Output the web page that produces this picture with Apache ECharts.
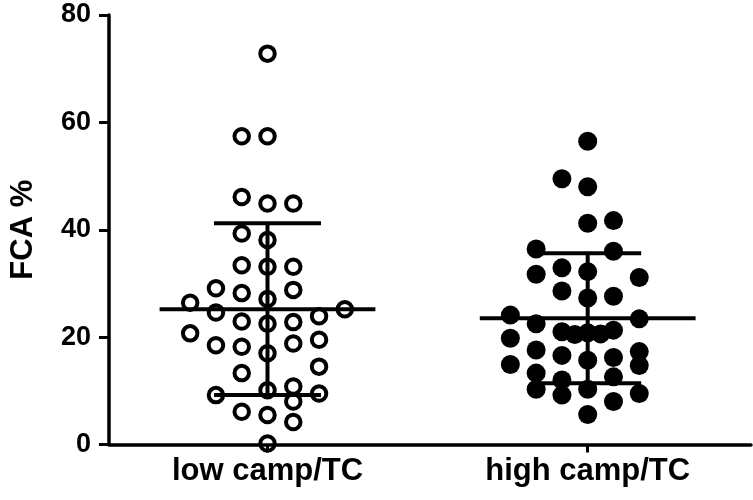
<!DOCTYPE html>
<html>
<head>
<meta charset="utf-8">
<script src="https://cdn.jsdelivr.net/npm/echarts@6/dist/echarts.min.js"></script>
<style>
html,body{margin:0;padding:0;background:#fff;}
#chart{width:753px;height:500px;}
</style>
</head>
<body>
<div id="chart"></div>
<script>
// ---- data ----
var categories = ['low camp/TC', 'high camp/TC'];
var yTicks = [0, 20, 40, 60, 80];

// low camp/TC : swarm lane index and value
var lowLane = [0, -1, 0, -1, 0, 1, -1, 0, -1, 0, 1, -2, -1, 1, 0, -3, -2, 3, -1, 0, 1, 2, -3, -2, -1, 0, 1, 2, -1, 2, -2, 0, 1, 1, 2, -1, 0, 1, 0];
var lowVal  = [72.8, 57.4, 57.4, 46.1, 44.9, 44.9, 39.3, 38.1, 33.4, 33.1, 33.1, 29.1, 28.2, 28.8, 27.1, 26.4, 24.6, 25.2, 22.9, 22.5, 22.8, 23.9, 20.7, 18.5, 18.2, 17.0, 18.8, 19.5, 13.3, 14.5, 9.2, 10.1, 10.8, 8.0, 9.5, 6.1, 5.5, 4.2, 0.2];

// high camp/TC
var highLane = [0, -1, 0, 0, 1, -2, 1, -2, -1, 0, 2, -1, 0, 1, -3, -2, 2, -1, -0.5, 0, 0.5, 1, -3, -2, -1, 0, 1, 2, 2, -3, -2, -2, -1, -1, 0, 1, 1, 2, 0];
var highVal  = [56.5, 49.5, 48.0, 41.2, 41.7, 36.4, 36.0, 31.7, 32.9, 32.2, 31.1, 28.6, 27.3, 27.6, 24.1, 22.5, 23.4, 21.0, 20.5, 20.8, 20.6, 21.3, 19.8, 17.6, 16.6, 15.7, 16.2, 17.3, 14.7, 14.9, 13.3, 10.3, 12.0, 9.2, 10.3, 12.6, 8.0, 9.5, 5.6];

var means = [25.2, 23.5];
var sds   = [16.0, 12.1];

// ---- build ----
var laneStep = 0.0805;
function pts(group, lanes, vals) {
  return vals.map(function (v, i) { return [group + lanes[i] * laneStep, v]; });
}
var statData = means.map(function (m, i) { return [i + 1, m, sds[i]]; });

var chart = echarts.init(document.getElementById('chart'), null, {renderer: 'canvas'});
var FONT = 'Liberation Sans, Arial, sans-serif';

chart.setOption({
  backgroundColor: '#fff',
  animation: false,
  grid: {left: 103, right: 2, top: 15, bottom: 55.5, containLabel: false},
  xAxis: {
    type: 'value',
    min: 0.505,
    max: 2.51,
    splitLine: {show: false},
    axisLine: {show: true, onZero: false, lineStyle: {color: '#000', width: 3.5}},
    axisTick: {show: true, customValues: [1, 2], length: 8, lineStyle: {color: '#000', width: 3}},
    axisLabel: {
      show: true, customValues: [1, 2], margin: 11,
      color: '#000', fontFamily: FONT, fontWeight: 'bold', fontSize: 31,
      formatter: function (v) { return categories[Math.round(v) - 1] || ''; }
    }
  },
  yAxis: {
    type: 'value',
    min: yTicks[0],
    max: yTicks[yTicks.length - 1],
    interval: 20,
    splitLine: {show: false},
    axisLine: {show: true, lineStyle: {color: '#000', width: 3.5}},
    axisTick: {show: true, length: 10, lineStyle: {color: '#000', width: 3}},
    axisLabel: {margin: 18, color: '#000', fontFamily: FONT, fontWeight: 'bold', fontSize: 27},
    name: 'FCA %',
    nameLocation: 'middle',
    nameGap: 70,
    nameTextStyle: {color: '#000', fontFamily: FONT, fontWeight: 'bold', fontSize: 31}
  },
  series: [
    {
      type: 'scatter',
      data: pts(1, lowLane, lowVal),
      symbol: 'circle',
      symbolSize: 14.5,
      itemStyle: {color: 'rgba(0,0,0,0)', borderColor: '#000', borderWidth: 4, opacity: 1},
      z: 3
    },
    {
      type: 'scatter',
      data: pts(2, highLane, highVal),
      symbol: 'circle',
      symbolSize: 19,
      itemStyle: {color: '#000', opacity: 1},
      z: 3
    },
    {
      type: 'custom',
      data: statData,
      z: 4,
      renderItem: function (params, api) {
        var g = api.value(0), m = api.value(1), s = api.value(2);
        var meanHalf = 0.337, whiskHalf = 0.167;
        var style = {stroke: '#000', lineWidth: 4, lineCap: 'butt'};
        function seg(x1, y1, x2, y2) {
          var a = api.coord([x1, y1]), b = api.coord([x2, y2]);
          return {type: 'line', shape: {x1: a[0], y1: a[1], x2: b[0], y2: b[1]}, style: style};
        }
        return {
          type: 'group',
          children: [
            seg(g - meanHalf, m, g + meanHalf, m),
            seg(g, m - s, g, m + s),
            seg(g - whiskHalf, m + s, g + whiskHalf, m + s),
            seg(g - whiskHalf, m - s, g + whiskHalf, m - s)
          ]
        };
      }
    }
  ]
});
</script>
</body>
</html>
